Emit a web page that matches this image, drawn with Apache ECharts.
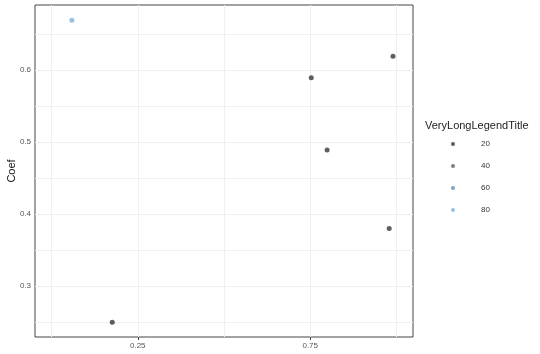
<!DOCTYPE html>
<html>
<head>
<meta charset="utf-8">
<script src="https://cdn.jsdelivr.net/npm/echarts@6/dist/echarts.min.js"></script>
<style>
  html, body { margin: 0; padding: 0; background: #fff; }
  #chart { width: 540px; height: 354px; }
</style>
</head>
<body>
<div id="chart"></div>
<script>
// point data: x, coef and the colour level of each point
const xVals = [0.059, 0.176, 0.753, 0.799, 0.990, 0.979]
const coefVals = [0.669, 0.250, 0.589, 0.489, 0.619, 0.380]
const levelVals = [80, 20, 20, 20, 20, 20]

// legend levels and their colours
const levels = [20, 40, 60, 80]
const levelColors = ['#363636', '#56606a', '#5e8db3', '#7fb2db']

// ticks and grid lines
const xTicks = [0.25, 0.75]
const xGrid = [0, 0.25, 0.5, 0.75, 1]
const yTicks = [0.3, 0.4, 0.5, 0.6]
const yGrid = [0.25, 0.3, 0.35, 0.4, 0.45, 0.5, 0.55, 0.6, 0.65]

const chart = echarts.init(document.getElementById('chart'))

// one series per legend level, points go to the series of their level
const series = levels.map((lv, i) => ({
  type: 'scatter',
  name: String(lv),
  symbol: 'circle',
  symbolSize: 5,
  itemStyle: { color: levelColors[i] },
  data: xVals.map((x, j) => [x, coefVals[j], levelVals[j]]).filter(d => d[2] === lv),
  z: 10
}))

// faint grid lines
series.push({
  type: 'scatter',
  name: 'grid',
  data: [],
  silent: true,
  z: 1,
  markLine: {
    silent: true,
    z: 1,
    symbol: 'none',
    animation: false,
    label: { show: false },
    lineStyle: { color: '#f0f0f0', width: 1, type: 'solid' },
    data: xGrid.map(v => ({ xAxis: v })).concat(yGrid.map(v => ({ yAxis: v })))
  }
})

const option = {
  animation: false,
  backgroundColor: '#fff',
  textStyle: { fontFamily: 'Liberation Sans, Arial, sans-serif' },
  grid: {
    left: 35, top: 5, right: 127, bottom: 17,
    outerBoundsMode: 'none',
    containLabel: false,
    show: true, borderColor: '#444', borderWidth: 1, backgroundColor: '#fff'
  },
  title: {
    text: 'VeryLongLegendTitle',
    left: 420, top: 115,
    textStyle: { fontSize: 11, fontWeight: 'normal', color: '#222' }
  },
  legend: {
    orient: 'vertical',
    left: 446, top: 134,
    itemWidth: 4, itemHeight: 4,
    itemGap: 12,
    icon: 'circle',
    data: levels.map(String),
    textStyle: { fontSize: 8, color: '#333', lineHeight: 10, padding: [0, 0, 0, 21] }
  },
  xAxis: {
    type: 'value',
    min: -0.048, max: 1.048,
    axisLine: { show: false },
    axisTick: { show: true, length: 3, customValues: xTicks, lineStyle: { color: '#444' } },
    axisLabel: {
      customValues: xTicks, fontSize: 8, color: '#555', margin: 5,
      formatter: v => v.toFixed(2)
    },
    splitLine: { show: false }
  },
  yAxis: {
    type: 'value',
    name: 'Coef',
    nameLocation: 'middle',
    nameGap: 18,
    nameMoveOverlap: false,
    nameTextStyle: { fontSize: 11, color: '#111' },
    min: 0.2296, max: 0.690,
    axisLine: { show: false },
    axisTick: { show: true, length: 3, customValues: yTicks, lineStyle: { color: '#444' } },
    axisLabel: {
      customValues: yTicks, fontSize: 8, color: '#555', margin: 4,
      formatter: v => v.toFixed(1)
    },
    splitLine: { show: false }
  },
  series: series
}

chart.setOption(option)
</script>
</body>
</html>
